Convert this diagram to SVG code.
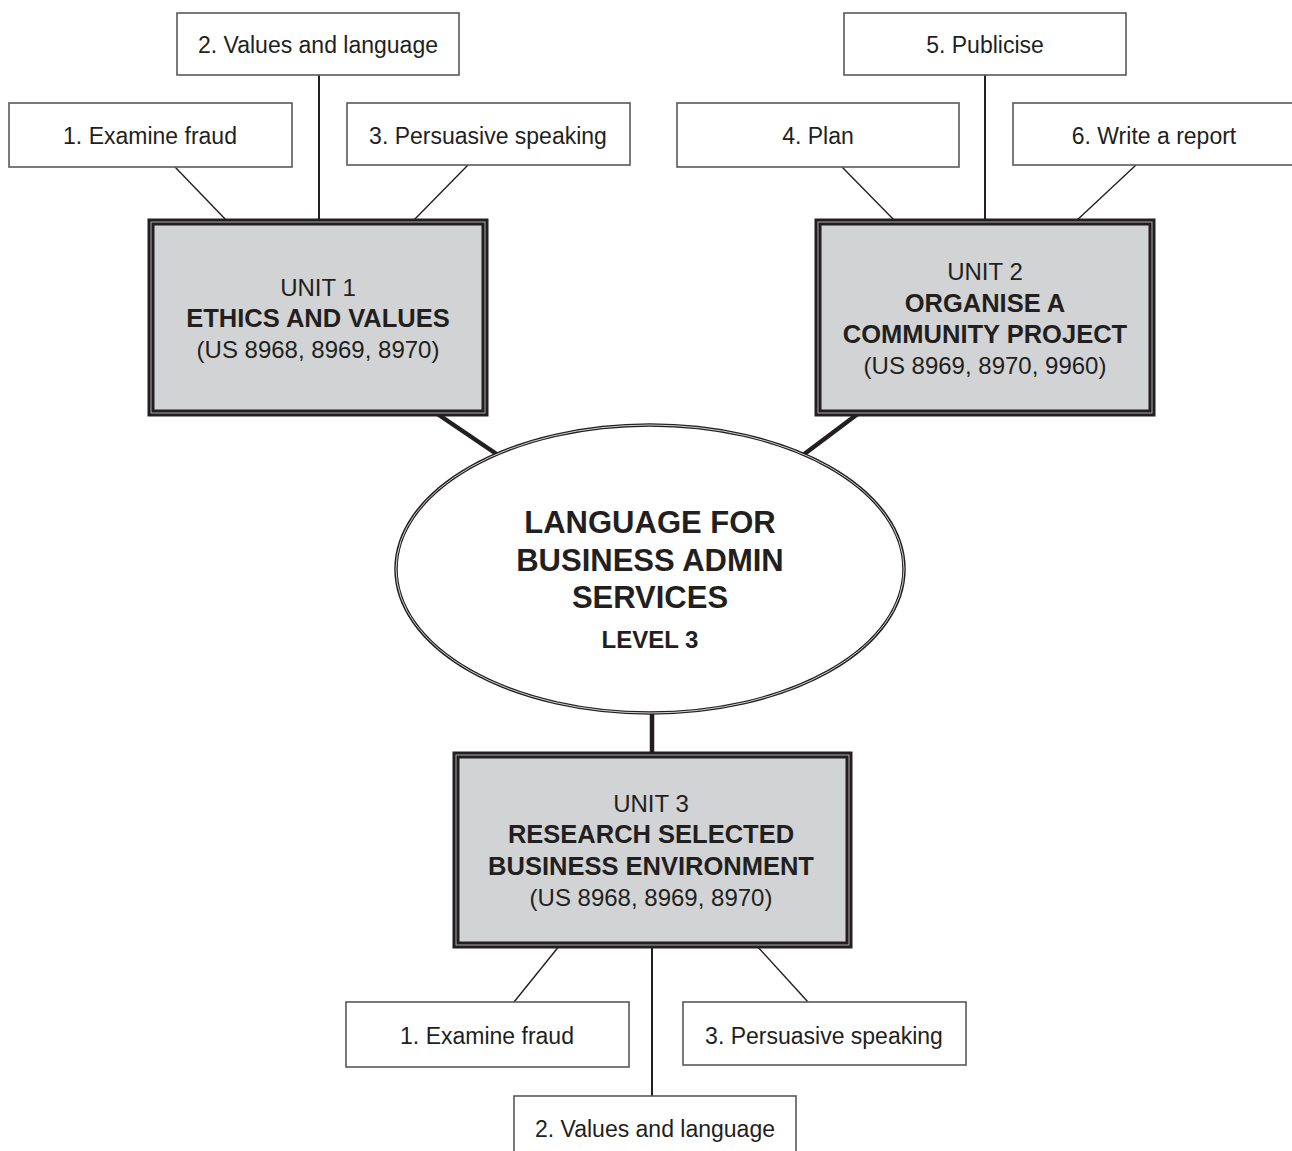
<svg xmlns="http://www.w3.org/2000/svg" width="1292" height="1151" viewBox="0 0 1292 1151">
<style>
.box{fill:#fff;stroke:#58595b;stroke-width:1.6}
.unit{fill:#d1d3d4;stroke:#231f20;stroke-width:7}
.unitin{fill:none;stroke:#a7a9ac;stroke-width:1}
.t{font-family:"Liberation Sans",Arial,sans-serif;font-size:23px;fill:#231f20;text-anchor:middle}
.u{font-family:"Liberation Sans",Arial,sans-serif;font-size:24px;fill:#231f20;text-anchor:middle}
.b{font-weight:bold;font-size:25.5px}
.e{font-family:"Liberation Sans",Arial,sans-serif;font-weight:bold;font-size:31px;fill:#231f20;text-anchor:middle}
.thin{stroke:#231f20;stroke-width:1.4;fill:none}
.thick{stroke:#231f20;stroke-width:4.5;fill:none}
</style>
<rect width="1292" height="1151" fill="#fff"/>
<g id="connectors">
<line class="thin" x1="175" y1="167" x2="228" y2="222"/>
<line class="thin" x1="319" y1="75" x2="319" y2="222" style="stroke-width:2"/>
<line class="thin" x1="468" y1="165" x2="412" y2="222"/>
<line class="thin" x1="842" y1="167" x2="896" y2="222"/>
<line class="thin" x1="985" y1="75" x2="985" y2="222" style="stroke-width:2"/>
<line class="thin" x1="1136" y1="165" x2="1075" y2="222"/>
<line class="thick" x1="436" y1="413" x2="498" y2="455"/>
<line class="thick" x1="859" y1="413" x2="803" y2="455"/>
<line class="thick" x1="652" y1="712" x2="652" y2="755"/>
<line class="thin" x1="560" y1="945" x2="514" y2="1002"/>
<line class="thin" x1="652" y1="945" x2="652" y2="1096" style="stroke-width:2"/>
<line class="thin" x1="756" y1="945" x2="808" y2="1002"/>
</g>
<g id="u1-task1"><rect class="box" x="9" y="103" width="283" height="64"/><text class="t" x="150" y="144">1. Examine fraud</text></g>
<g id="u1-task2"><rect class="box" x="177" y="13" width="282" height="62"/><text class="t" x="318" y="53">2. Values and language</text></g>
<g id="u1-task3"><rect class="box" x="347" y="103" width="283" height="62"/><text class="t" x="488" y="144">3. Persuasive speaking</text></g>
<g id="u2-task4"><rect class="box" x="677" y="103" width="282" height="64"/><text class="t" x="818" y="144">4. Plan</text></g>
<g id="u2-task5"><rect class="box" x="844" y="13" width="282" height="62"/><text class="t" x="985" y="53">5. Publicise</text></g>
<g id="u2-task6"><rect class="box" x="1013" y="103" width="285" height="62"/><text class="t" x="1154" y="144">6. Write a report</text></g>
<g id="unit1">
<rect class="unit" x="151" y="222" width="334" height="191"/>
<rect class="unitin" x="151" y="222" width="334" height="191"/>
<text class="u" x="318" y="296">UNIT 1</text>
<text class="u b" x="318" y="327">ETHICS AND VALUES</text>
<text class="u" x="318" y="358">(US 8968, 8969, 8970)</text>
</g>
<g id="unit2">
<rect class="unit" x="818" y="222" width="334" height="191"/>
<rect class="unitin" x="818" y="222" width="334" height="191"/>
<text class="u" x="985" y="280">UNIT 2</text>
<text class="u b" x="985" y="312">ORGANISE A</text>
<text class="u b" x="985" y="343">COMMUNITY PROJECT</text>
<text class="u" x="985" y="374">(US 8969, 8970, 9960)</text>
</g>
<g id="centre">
<ellipse cx="650" cy="569" rx="254" ry="144" fill="#fff" stroke="#231f20" stroke-width="3.5"/>
<ellipse cx="650" cy="569" rx="254" ry="144" fill="none" stroke="#fff" stroke-width="0.8"/>
<text class="e" x="650" y="533">LANGUAGE FOR</text>
<text class="e" x="650" y="571">BUSINESS ADMIN</text>
<text class="e" x="650" y="608">SERVICES</text>
<text class="e" x="650" y="648" style="font-size:24px">LEVEL 3</text>
</g>
<g id="unit3">
<rect class="unit" x="456" y="755" width="393" height="190"/>
<rect class="unitin" x="456" y="755" width="393" height="190"/>
<text class="u" x="651" y="812">UNIT 3</text>
<text class="u b" x="651" y="843">RESEARCH SELECTED</text>
<text class="u b" x="651" y="875">BUSINESS ENVIRONMENT</text>
<text class="u" x="651" y="906">(US 8968, 8969, 8970)</text>
</g>
<g id="u3-task1"><rect class="box" x="346" y="1002" width="283" height="65"/><text class="t" x="487" y="1044">1. Examine fraud</text></g>
<g id="u3-task3"><rect class="box" x="683" y="1002" width="283" height="63"/><text class="t" x="824" y="1044">3. Persuasive speaking</text></g>
<g id="u3-task2"><rect class="box" x="514" y="1096" width="282" height="70"/><text class="t" x="655" y="1137">2. Values and language</text></g>
</svg>
